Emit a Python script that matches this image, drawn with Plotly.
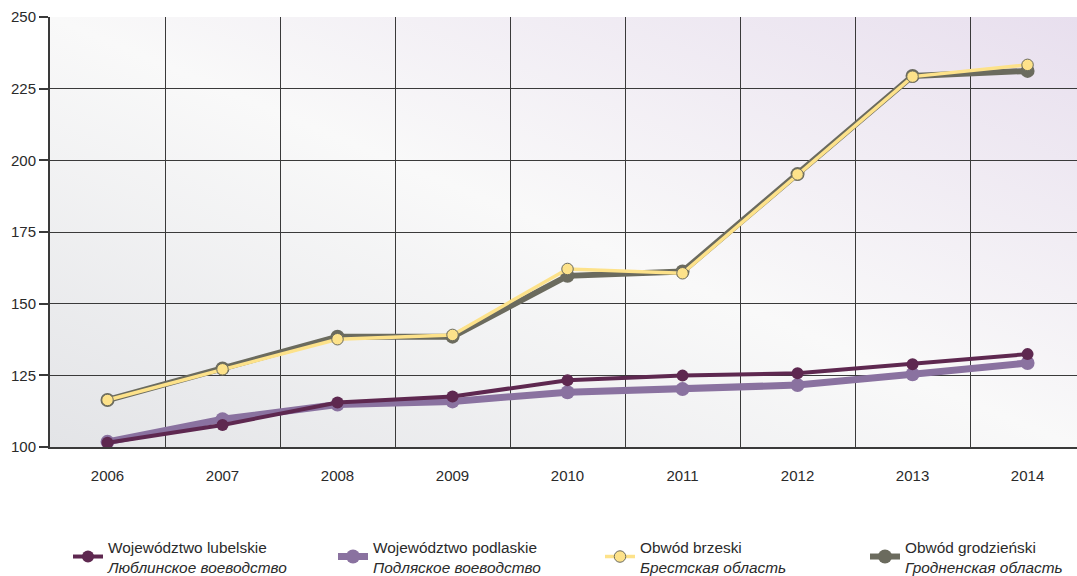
import base64
import plotly.graph_objects as go

years = ["2006", "2007", "2008", "2009", "2010", "2011", "2012", "2013", "2014"]
lubelskie = [101.5, 107.7, 115.5, 117.6, 123.3, 124.9, 125.7, 128.9, 132.4]
podlaskie = [101.8, 109.7, 114.8, 115.9, 119.1, 120.2, 121.6, 125.4, 129.3]
brzeski = [116.4, 127.1, 137.6, 139.1, 162.1, 160.6, 195.1, 229.2, 233.3]
grodzienski = [116.4, 127.4, 138.5, 138.5, 159.7, 161.2, 195.2, 229.4, 231.2]

names = [
    "Województwo lubelskie<br><i>Люблинское воеводство</i>",
    "Województwo podlaskie<br><i>Подляское воеводство</i>",
    "Obwód brzeski<br><i>Брестская область</i>",
    "Obwód grodzieński<br><i>Гродненская область</i>",
]
y_ticks = [100, 125, 150, 175, 200, 225, 250]

C_LUB = "#5e2850"
C_PODL = "#8a72a0"
C_BRZ = "#fde28a"
C_GRO = "#6b6b5e"

FONT = "Liberation Sans, Arial, sans-serif"
W, H = 1077, 576

svg = (
    "<svg xmlns='http://www.w3.org/2000/svg' width='200' height='100' preserveAspectRatio='none' viewBox='0 0 200 100'>"
    "<defs><linearGradient id='g' x1='0' y1='1' x2='1' y2='0'>"
    "<stop offset='0' stop-color='#e3e4e7'/>"
    "<stop offset='0.5' stop-color='#f9f9f9'/>"
    "<stop offset='1' stop-color='#e8dfee'/>"
    "</linearGradient></defs><rect width='200' height='100' fill='url(#g)'/></svg>"
)
bg_src = "data:image/svg+xml;base64," + base64.b64encode(svg.encode()).decode()

fig = go.Figure()

fig.add_trace(go.Scatter(x=years, y=podlaskie, name=names[1], mode="lines+markers",
                         line=dict(color=C_PODL, width=7),
                         marker=dict(color=C_PODL, size=14), legend="legend2", showlegend=True))
fig.add_trace(go.Scatter(x=years, y=lubelskie, name=names[0], mode="lines+markers",
                         line=dict(color=C_LUB, width=4),
                         marker=dict(color=C_LUB, size=12), legend="legend", showlegend=True))
fig.add_trace(go.Scatter(x=years, y=grodzienski, name=names[3], mode="lines+markers",
                         line=dict(color=C_GRO, width=6),
                         marker=dict(color=C_GRO, size=14), legend="legend4", showlegend=True))
fig.add_trace(go.Scatter(x=years, y=brzeski, name=names[2], mode="lines+markers",
                         line=dict(color=C_BRZ, width=3.5),
                         marker=dict(color=C_BRZ, size=11.5, line=dict(color=C_GRO, width=1)),
                         legend="legend3", showlegend=True))

legend_text_x = [108, 373, 640, 905]


def leg(px):
    return dict(orientation="h", xref="container", x=(px - 40) / W, xanchor="left",
                yref="container", y=(H - 530) / H, yanchor="top",
                font=dict(family=FONT, size=15.4, color="#2a2a2a"),
                bgcolor="rgba(0,0,0,0)", visible=True)


fig.update_layout(
    width=W, height=H,
    showlegend=True,
    margin=dict(l=50, r=0, t=17, b=129, autoexpand=False),
    paper_bgcolor="white",
    plot_bgcolor="rgba(0,0,0,0)",
    font=dict(family=FONT, size=15, color="#2a2a2a"),
    hovermode=False,
    images=[dict(source=bg_src, xref="paper", yref="paper", x=0, y=1, sizex=1, sizey=1,
                 sizing="stretch", layer="below")],
    legend=leg(legend_text_x[0]),
    legend2=leg(legend_text_x[1]),
    legend3=leg(legend_text_x[2]),
    legend4=leg(legend_text_x[3]),
)

fig.update_xaxes(
    type="category", range=[-0.5, 8.43], tickson="boundaries",
    showgrid=True, gridcolor="#3a3a3a", gridwidth=1,
    showline=True, linecolor="#3a3a3a", linewidth=2,
    ticks="", ticklabelstandoff=14,
    tickfont=dict(family=FONT, size=15, color="#2a2a2a"),
    zeroline=False, fixedrange=True, automargin=False,
)
fig.update_yaxes(
    range=[100, 250], tickvals=y_ticks,
    showgrid=True, gridcolor="#3a3a3a", gridwidth=1,
    showline=True, linecolor="#3a3a3a", linewidth=2,
    ticks="outside", ticklen=9, tickcolor="#3a3a3a", tickwidth=1.5,
    tickfont=dict(family=FONT, size=15, color="#2a2a2a"),
    zeroline=False, fixedrange=True, automargin=False,
)

fig.write_html("out.html", config={"displayModeBar": False},
               post_script="document.body.style.margin='0';")
